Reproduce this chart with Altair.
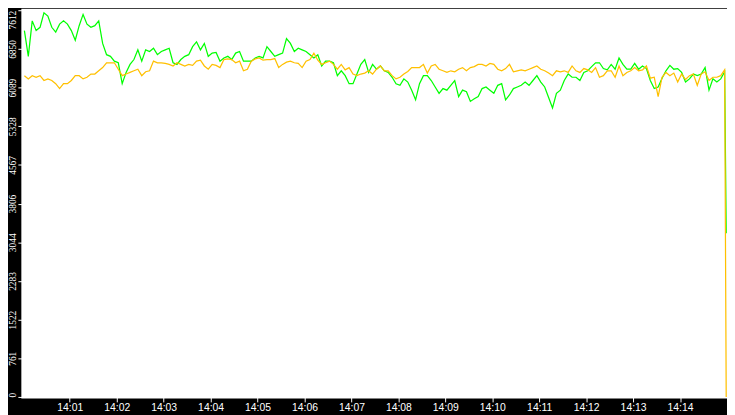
import altair as alt
import pandas as pd

# Series values (one sample every 5 s, 14:00:02 .. 14:14:57, then the final drop)
green_vals = [
    7212, 6705, 7403, 7212, 7276, 7561, 7498, 7276, 7181, 7339, 7403, 7339, 7212, 7022, 7308,
    7530, 7339, 7276, 7308, 7403, 6959, 6737, 6705, 6610, 6578, 6166, 6388, 6546, 6642, 6832,
    6610, 6832, 6800, 6864, 6737, 6800, 6832, 6864, 6578, 6546, 6642, 6705, 6737, 6895, 6990,
    6832, 6959, 6705, 6768, 6781, 6610, 6673, 6705, 6642, 6768, 6800, 6610, 6610, 6610, 6673,
    6705, 6673, 6895, 6800, 6705, 6737, 6768, 7054, 6959, 6800, 6864, 6832, 6800, 6737, 6673,
    6737, 6515, 6610, 6610, 6578, 6324, 6420, 6324, 6166, 6166, 6356, 6546, 6642, 6388, 6546,
    6451, 6515, 6420, 6388, 6293, 6166, 6134, 6261, 6198, 6039, 5849, 6166, 6324, 6324, 6229,
    6102, 5976, 6070, 6039, 6134, 6229, 5912, 6039, 6007, 5817, 5868, 5912, 6070, 6102, 6039,
    5976, 6134, 6166, 5849, 5944, 6070, 6102, 6134, 6198, 6134, 6229, 6324, 6198, 6102, 5893,
    5690, 5976, 6039, 6229, 6356, 6293, 6293, 6229, 6388, 6420, 6502, 6578, 6578, 6464, 6439,
    6546, 6451, 6673, 6546, 6451, 6451, 6565, 6451, 6515, 6464, 6229, 6070, 6102, 6274, 6420,
    6527, 6451, 6464, 6388, 6198, 6261, 6356, 6324, 6356, 6483, 6039, 6261, 6198, 6261, 6401,
    3220,
]
orange_vals = [
    6324, 6261, 6324, 6293, 6324, 6229, 6261, 6229, 6166, 6070, 6166, 6166, 6229, 6324, 6324,
    6261, 6293, 6356, 6356, 6420, 6483, 6578, 6578, 6578, 6451, 6324, 6356, 6388, 6420, 6451,
    6324, 6401, 6420, 6610, 6578, 6578, 6565, 6546, 6515, 6578, 6546, 6515, 6546, 6527, 6610,
    6629, 6515, 6451, 6546, 6527, 6483, 6642, 6654, 6642, 6578, 6610, 6420, 6451, 6610, 6654,
    6673, 6629, 6642, 6642, 6661, 6483, 6546, 6591, 6610, 6578, 6565, 6483, 6610, 6642, 6768,
    6629, 6546, 6578, 6610, 6546, 6451, 6546, 6439, 6483, 6356, 6324, 6356, 6375, 6420, 6356,
    6451, 6515, 6420, 6420, 6324, 6261, 6293, 6356, 6407, 6483, 6483, 6483, 6546, 6375, 6515,
    6546, 6451, 6420, 6388, 6420, 6401, 6451, 6483, 6420, 6483, 6502, 6546, 6546, 6515, 6565,
    6546, 6451, 6420, 6464, 6546, 6401, 6420, 6439, 6420, 6451, 6483, 6515, 6451, 6420, 6375,
    6324, 6420, 6401, 6420, 6388, 6515, 6420, 6388, 6464, 6439, 6388, 6483, 6293, 6324, 6420,
    6420, 6293, 6515, 6324, 6388, 6420, 6483, 6420, 6439, 6515, 6274, 6293, 5912, 6293, 6388,
    6324, 6375, 6198, 6356, 6248, 6324, 6356, 6134, 6356, 6401, 6229, 6293, 6293, 6324, 6439,
    0,
]
y_ticks = [0, 761, 1522, 2283, 3044, 3806, 4567, 5328, 6089, 6850, 7612]
x_tick_minutes = list(range(1, 15))

secs = [5 * i + 2 for i in range(len(green_vals) - 1)] + [899]
times = [f"2024-01-01T14:{s // 60:02d}:{s % 60:02d}" for s in secs]

df_g = pd.DataFrame({"t": times, "v": green_vals})
df_o = pd.DataFrame({"t": times, "v": orange_vals})

x_enc = alt.X(
    "t:T",
    scale=alt.Scale(domain=[
        alt.DateTime(year=2024, month=1, date=1, hours=14, minutes=0, seconds=0),
        alt.DateTime(year=2024, month=1, date=1, hours=14, minutes=15, seconds=0),
    ]),
    axis=alt.Axis(
        title=None, grid=False, domain=False, format="%H:%M",
        values=[alt.DateTime(year=2024, month=1, date=1, hours=14, minutes=m) for m in x_tick_minutes],
        tickColor="white", tickSize=5, tickWidth=1,
        labelColor="white", labelFont="Liberation Sans", labelFontSize=10.5,
        labelPadding=1, labelFlush=False,
    ),
)
y_enc = alt.Y(
    "v:Q",
    scale=alt.Scale(domain=[0, 7612], nice=False, zero=True),
    axis=alt.Axis(
        title=None, grid=False, domain=False, values=y_ticks, format="d",
        tickColor="white", tickSize=5, tickWidth=1,
        labelColor="white", labelFont="Liberation Sans Narrow", labelFontSize=9.5,
        labelAngle=270, labelBaseline="alphabetic", labelPadding=2,
        labelAlign={"condition": [
            {"test": "datum.value == 0", "value": "left"},
            {"test": "datum.value > 7000", "value": "right"},
        ], "value": "center"},
        labelFlush=False,
    ),
)

g_line = alt.Chart(df_g).mark_line(color="#00FF00", strokeWidth=1.25, interpolate="linear").encode(x=x_enc, y=y_enc)
o_line = alt.Chart(df_o).mark_line(color="#FFC000", strokeWidth=1.25, interpolate="linear").encode(x=x_enc, y=y_enc)

chart = alt.layer(g_line, o_line).properties(
    width=712, height=391,
    autosize=alt.AutoSizeParams(type="none"),
    padding={"left": 15, "top": 0, "right": 0, "bottom": 16},
    background="black",
).configure_view(fill="white", stroke="white", strokeWidth=3)

chart.save("out.html", embed_options={"renderer": "svg", "actions": False})
